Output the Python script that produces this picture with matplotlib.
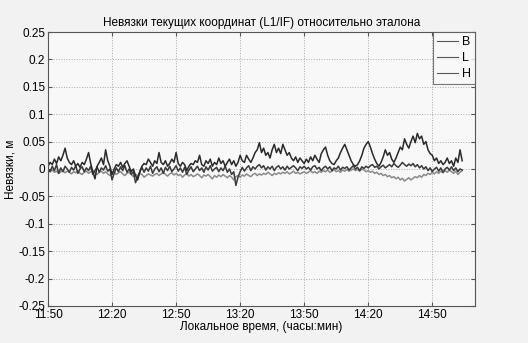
import matplotlib
matplotlib.use("Agg")
import matplotlib.pyplot as plt
import numpy as np
from matplotlib.lines import Line2D

plt.rcParams['font.family'] = ['Liberation Sans', 'DejaVu Sans']

# time in minutes since 11:50, one sample per minute
minutes = list(range(195))

# series values in millimetres
B_mm = [5, 12, 8, 18, 10, 22, 15, 25, 38, 20,
        12, 8, 15, 5, 10, 3, 12, 8, 18, 30,
        10, -5, -18, 5, 12, 20, 8, 35, 15, 5,
        -10, 0, 8, 5, 12, 3, 10, 15, 5, -5,
        0, -12, -20, -5, 5, 10, 8, 18, 12, 5,
        15, 10, 30, 12, 8, 15, 5, 10, 18, 12,
        30, 10, 5, 12, 8, -3, 5, 10, 8, 15,
        12, 25, 8, 5, 15, 10, 18, 5, 12, 8,
        20, 10, 15, 5, 12, 18, 8, 15, 5, 12,
        25, 15, 12, 25, 18, 12, 20, 30, 35, 48,
        30, 38, 25, 30, 20, 35, 45, 30, 38, 28,
        45, 35, 25, 30, 20, 15, 22, 12, 20, 15,
        10, 18, 12, 22, 15, 25, 18, 12, 28, 35,
        40, 25, 15, 10, 8, 15, 20, 30, 38, 45,
        35, 25, 15, 8, 5, 8, 15, 25, 38, 45,
        50, 40, 28, 18, 10, 5, 12, 22, 35, 25,
        30, 18, 12, 20, 30, 40, 35, 55, 45, 38,
        50, 60, 48, 65, 55, 60, 45, 50, 35, 28,
        25, 15, 20, 10, 15, 8, 12, 20, 10, 15,
        5, 20, 12, 35, 15]

L_mm = [0, -5, 5, -3, 8, -8, 2, -5, 5, 0,
        -6, 3, -2, 6, -8, 0, 4, -5, 2, -3,
        5, -10, -3, 4, -6, 2, -2, 6, -4, 0,
        -20, -8, 2, -5, 4, -3, 6, -6, 0, -10,
        -5, -25, -15, -5, 3, -6, 2, -4, 5, -8,
        0, 4, -5, 2, -8, 3, -3, 5, -5, 0,
        6, -4, 2, -6, 3, -10, -2, 4, -5, 0,
        5, -3, 2, -6, 4, -2, 6, -4, 0, 3,
        -5, 2, -3, 5, -6, 0, -10, -5, -30, -15,
        -5, 3, -4, 2, 6, -3, 4, 0, 5, 8,
        2, 6, -2, 4, 0, 5, -3, 3, 6, 0,
        4, -2, 5, 0, 3, 6, 2, -3, 4, 1,
        5, 0, 3, -2, 4, 6, 0, 3, -3, 2,
        5, 0, 4, -3, 2, 0, 5, -2, 3, 1,
        4, -2, 2, 6, 0, 3, -3, 4, 1, 5,
        2, 6, 8, 3, 5, 0, 4, 7, 2, 5,
        8, 4, 10, 6, 3, 7, 12, 8, 5, 9,
        6, 10, 4, 8, 2, 6, 0, 4, -3, 2,
        -5, 0, 3, -4, 2, -6, 0, 3, -2, 4,
        -3, 2, -5, 0, -2]

H_mm = [-3, -5, -2, -6, -4, -8, -5, -3, -7, -4,
        -6, -9, -5, -7, -3, -8, -10, -6, -4, -8,
        -5, -3, -7, -10, -6, -4, -8, -5, -9, -12,
        -8, -6, -10, -7, -5, -9, -12, -8, -6, -10,
        -14, -10, -12, -8, -10, -15, -12, -9, -11, -13,
        -10, -8, -12, -9, -6, -10, -13, -9, -7, -11,
        -8, -12, -10, -15, -11, -8, -13, -10, -14, -12,
        -9, -12, -16, -11, -13, -10, -14, -18, -12, -15,
        -11, -14, -10, -13, -16, -12, -15, -20, -14, -12,
        -15, -11, -13, -9, -12, -14, -10, -8, -12, -9,
        -11, -8, -10, -6, -9, -12, -8, -10, -7, -9,
        -6, -8, -5, -9, -7, -4, -8, -6, -9, -7,
        -5, -8, -6, -3, -7, -5, -8, -4, -6, -3,
        -5, -2, -6, -4, -1, -5, -3, -6, -2, -4,
        -1, -4, -2, 0, -3, -1, -4, 0, -2, -5,
        -3, -6, -4, -8, -6, -10, -8, -12, -10, -14,
        -12, -16, -14, -18, -15, -20, -17, -22, -19, -16,
        -20, -17, -14, -16, -12, -15, -10, -12, -8, -10,
        -6, -9, -5, -8, -4, -7, -3, -6, -2, -5,
        -8, -4, -10, -6, -3]

series_names = ['B', 'L', 'H']
xtick_pos = [0, 30, 60, 90, 120, 150, 180]
xtick_labels = ['11:50', '12:20', '12:50', '13:20', '13:50', '14:20', '14:50']
ytick_pos = [0.25, 0.2, 0.15, 0.1, 0.05, 0, -0.05, -0.1, -0.15, -0.2, -0.25]
ytick_labels = ['0.25', '0.2', '0.15', '0.1', '0.05', '0', '-0.05', '-0.1', '-0.15', '-0.2', '-0.25']

t = np.array(minutes)
B = np.array(B_mm) / 1000.0
L = np.array(L_mm) / 1000.0
H = np.array(H_mm) / 1000.0

fig = plt.figure(figsize=(5.28, 3.43), dpi=100, facecolor='#f2f2f2')
ax = fig.add_axes([0.0909, 0.108, 0.8087, 0.7987])
ax.set_facecolor('#f8f8f8')

ax.plot(t, H, color='#8a8a8a', lw=1.1)
ax.plot(t, L, color='#3a3a3a', lw=1.1)
ax.plot(t, B, color='#2a2a2a', lw=1.1)

handles = [Line2D([], [], color='#555555', lw=0.8) for _ in series_names]
leg = ax.legend(handles, series_names, loc='upper right', fontsize=9,
                frameon=True, fancybox=False, handlelength=1.7,
                handletextpad=0.25, borderaxespad=0.0, borderpad=0.35,
                labelspacing=0.3)
leg.get_frame().set_edgecolor('#555555')
leg.get_frame().set_facecolor('#f8f8f8')
leg.get_frame().set_linewidth(0.8)

ax.set_xlim(0, 200)
ax.set_ylim(-0.25, 0.25)
ax.set_xticks(xtick_pos)
ax.set_xticklabels(xtick_labels)
ax.set_yticks(ytick_pos)
ax.set_yticklabels(ytick_labels)
ax.tick_params(direction='in', top=True, right=True, labelsize=8.5, length=3,
               color='#555555', pad=2)
ax.grid(True, linestyle=':', color='#aaaaaa', lw=0.7)
for s in ax.spines.values():
    s.set_color('#555555')
    s.set_linewidth(0.8)

ax.set_title('Невязки текущих координат (L1/IF) относительно эталона',
             fontsize=8.5, pad=4)
ax.set_xlabel('Локальное время, (часы:мин)', fontsize=8.5, labelpad=0)
ax.set_ylabel('Невязки, м', fontsize=8.5, labelpad=1)

fig.savefig('out.png', dpi=100, facecolor=fig.get_facecolor())
